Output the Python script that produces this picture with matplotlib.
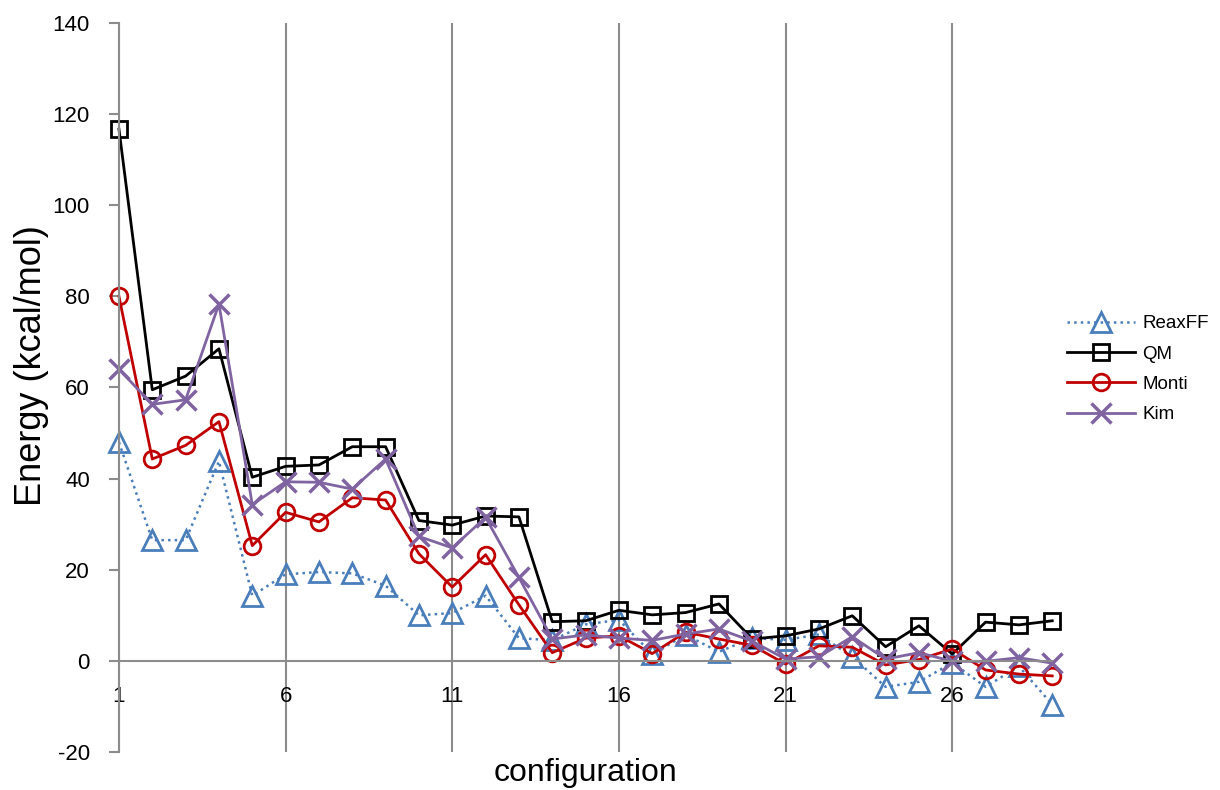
import matplotlib
matplotlib.use('Agg')
import matplotlib.pyplot as plt
import numpy as np

plt.rcParams['font.family'] = ['Liberation Sans', 'DejaVu Sans']
plt.rcParams['axes.unicode_minus'] = False

# Data
config = np.arange(1, 30)
reaxff = [48, 26.5, 26.5, 43.8, 14.3, 19, 19.5, 19.2, 16.5, 10,
          10.5, 14.3, 5, 4.5, 8, 9, 1.5, 5.7, 2, 5,
          4.6, 5.8, 0.9, -5.7, -4.6, -0.4, -5.7, -1.2, -9.6]
qm = [116.7, 59.5, 62.5, 68.5, 40.3, 42.7, 43, 47, 47, 30.8,
      29.8, 31.8, 31.6, 8.6, 8.8, 11.1, 10.1, 10.6, 12.5, 4.8,
      5.5, 7.0, 9.9, 3.1, 7.7, 1.5, 8.5, 7.9, 8.8]
monti = [80, 44.3, 47.3, 52.5, 25.3, 32.6, 30.5, 35.8, 35.3, 23.5,
         16.2, 23.3, 12.3, 1.8, 5.0, 5.5, 1.6, 6.3, 4.8, 3.4,
         -0.7, 3.3, 3.0, -0.9, 0.3, 2.6, -2.0, -2.9, -3.3]
kim = [64, 56.3, 57.3, 78.3, 34.3, 39.3, 39.2, 37.7, 44.3, 27.3,
       24.8, 31.5, 18.3, 4.8, 5.7, 5.0, 4.5, 5.9, 7.0, 4.3,
       0.4, 0.9, 5.3, 0.4, 1.8, -0.1, -0.1, 0.7, -0.5]

xticks = [1, 6, 11, 16, 21, 26]
yticks = list(range(-20, 141, 20))

fig = plt.figure(figsize=(12.2, 7.9), dpi=100)
ax = fig.add_axes([0.0975, 0.0481, 0.765, 0.9228])

ax.plot(config, reaxff, linestyle=':', color='#4a7ebb', lw=1.8, marker='^',
        ms=14, mfc='none', mec='#4a7ebb', mew=2, label='ReaxFF', clip_on=False)
ax.plot(config, qm, linestyle='-', color='black', lw=2, marker='s',
        ms=12, mfc='none', mec='black', mew=2, label='QM', clip_on=False)
ax.plot(config, monti, linestyle='-', color='#c00000', lw=2, marker='o',
        ms=12, mfc='none', mec='#c00000', mew=2, label='Monti', clip_on=False)
ax.plot(config, kim, linestyle='-', color='#8064a2', lw=2, marker='x',
        ms=15, mec='#8064a2', mew=2.5, label='Kim', clip_on=False)

ax.set_xlim(1, 29)
ax.set_ylim(-20, 140)
ax.set_xticks(xticks)
ax.set_yticks(yticks)

for s in ['top', 'right']:
    ax.spines[s].set_visible(False)
ax.spines['bottom'].set_position(('data', 0))
ax.spines['bottom'].set_color('#8c8c8c')
ax.spines['bottom'].set_linewidth(1.5)
ax.spines['left'].set_color('#8c8c8c')
ax.spines['left'].set_linewidth(1.5)
ax.set_axisbelow(True)
ax.grid(axis='x', color='#8c8c8c', lw=1.5)

ax.tick_params(axis='x', length=0, pad=18, labelsize=16)
ax.tick_params(axis='y', length=7, width=1.5, color='#8c8c8c', labelsize=16, pad=14)

ax.set_ylabel('Energy (kcal/mol)', fontsize=26)
ax.yaxis.set_label_coords(-0.075, 0.53)
ax.set_xlabel('configuration', fontsize=23)
ax.xaxis.set_label_coords(0.5, -0.008)

ax.legend(loc='center left', bbox_to_anchor=(0.998, 0.525), frameon=False,
          fontsize=13.5, handlelength=3.6, handletextpad=0.4, labelspacing=0.7)

fig.savefig('out.png', dpi=100)
